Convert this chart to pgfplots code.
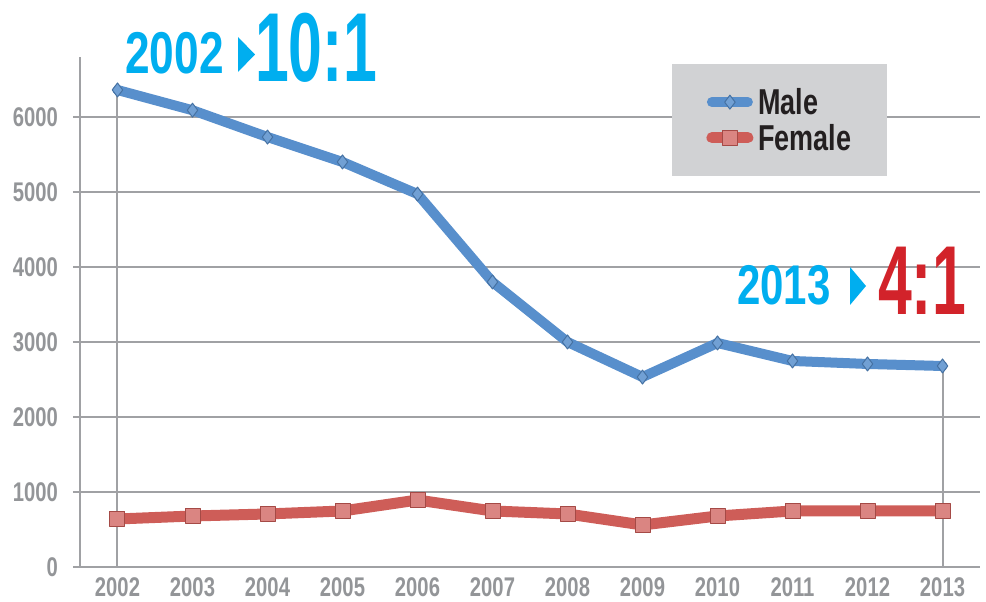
\documentclass[border=0pt]{standalone}
\usepackage{pgfplots}
\pgfplotsset{compat=1.18}
\usepackage{fontspec}
\setmainfont{Liberation Sans}
\newfontfamily\condb{Liberation Sans}[FakeStretch=0.75]
\newfontfamily\condn{Liberation Sans}[FakeStretch=0.62]
\definecolor{cyanT}{RGB}{0,174,239}
\definecolor{redT}{RGB}{210,35,42}
\definecolor{maleC}{RGB}{88,143,204}
\definecolor{femC}{RGB}{206,93,88}
\definecolor{gridC}{RGB}{160,161,164}
\definecolor{tickC}{RGB}{147,149,152}
\definecolor{legC}{RGB}{209,210,212}
\definecolor{txtC}{RGB}{35,31,32}
\begin{document}
\begin{tikzpicture}[x=1pt,y=1pt]
\useasboundingbox (0,0) rectangle (986,602);
\begin{axis}[
  at={(80pt,35pt)}, anchor=south west,
  scale only axis, width=900pt, height=510pt,
  xmin=-0.5, xmax=11.5, ymin=0, ymax=6800,
  axis x line*=bottom, axis y line*=left,
  axis line style={gridC, line width=2.2pt, -},
  xtick={0,...,11},
  xticklabels={2002,2003,2004,2005,2006,2007,2008,2009,2010,2011,2012,2013},
  minor xtick={-0.5,0.5,...,11.5},
  ytick={0,1000,...,6000},
  tick align=outside,
  major tick length=7pt, minor tick length=9pt,
  xtick style={draw=none},
  minor tick style={gridC, line width=2pt},
  ytick style={gridC, line width=2pt},
  ymajorgrids, grid style={gridC, line width=2.2pt},
  /pgf/number format/assume math mode=true,
  /pgf/number format/1000 sep={},
  tick label style={font=\condb\bfseries\fontsize{27}{27}\selectfont, text=tickC},
  xticklabel style={anchor=base, inner sep=0pt, yshift=-23pt},
  yticklabel style={anchor=east, inner sep=0pt, xshift=-15pt},
  clip=false,
  legend style={at={(0.658,0.986)}, anchor=north west, fill=legC, draw=none,
    inner xsep=34pt, inner ysep=22pt, row sep=4pt,
    font=\condb\bfseries\fontsize{36}{36}\selectfont, text=txtC,
    cells={anchor=west}},
  legend image code/.code={
    \draw[#1, mark=none, line cap=round] (2pt,0pt) -- (38pt,0pt);
    \draw[#1, line width=1pt] plot coordinates {(20pt,0pt)};
    \path (41pt,0pt);
  },
]
\addplot[gridC, line width=2pt, forget plot] coordinates {(0,0) (0,6360)};
\addplot[gridC, line width=2pt, forget plot] coordinates {(11,0) (11,2680)};
\addplot[maleC, line width=10pt, line cap=round, line join=round,
  mark=diamond*, mark size=7pt, mark options={fill=maleC!85!white, draw=maleC!80!black, line width=1pt}]
  coordinates {(0,6360) (1,6090) (2,5733) (3,5400) (4,4973) (5,3800) (6,3000) (7,2533) (8,2987) (9,2747) (10,2707) (11,2680)};
\addlegendentry{Male}
\addplot[femC, line width=11pt, line cap=round, line join=round,
  mark=square*, mark size=7.5pt, mark options={fill=femC!75!white, draw=femC!80!black, line width=1pt}]
  coordinates {(0,640) (1,680) (2,707) (3,747) (4,893) (5,747) (6,707) (7,560) (8,680) (9,747) (10,747) (11,747)};
\addlegendentry{Female}
\end{axis}
\node[anchor=base west, inner sep=0, text=cyanT, font=\condb\bfseries\fontsize{59}{59}\selectfont] at (125,528) {2002};
\fill[cyanT] (238,565) -- (238,530) -- (255,547.5) -- cycle;
\node[anchor=base west, inner sep=0, text=cyanT, font=\condn\bfseries\fontsize{98}{98}\selectfont] at (255,520) {10:1};
\node[anchor=base west, inner sep=0, text=cyanT, font=\condb\bfseries\fontsize{56}{56}\selectfont] at (737,297) {2013};
\fill[cyanT] (850,335) -- (850,297) -- (866,316) -- cycle;
\node[anchor=base west, inner sep=0, text=redT, font=\condn\bfseries\fontsize{98}{98}\selectfont] at (878,287) {4:1};
\end{tikzpicture}
\end{document}
